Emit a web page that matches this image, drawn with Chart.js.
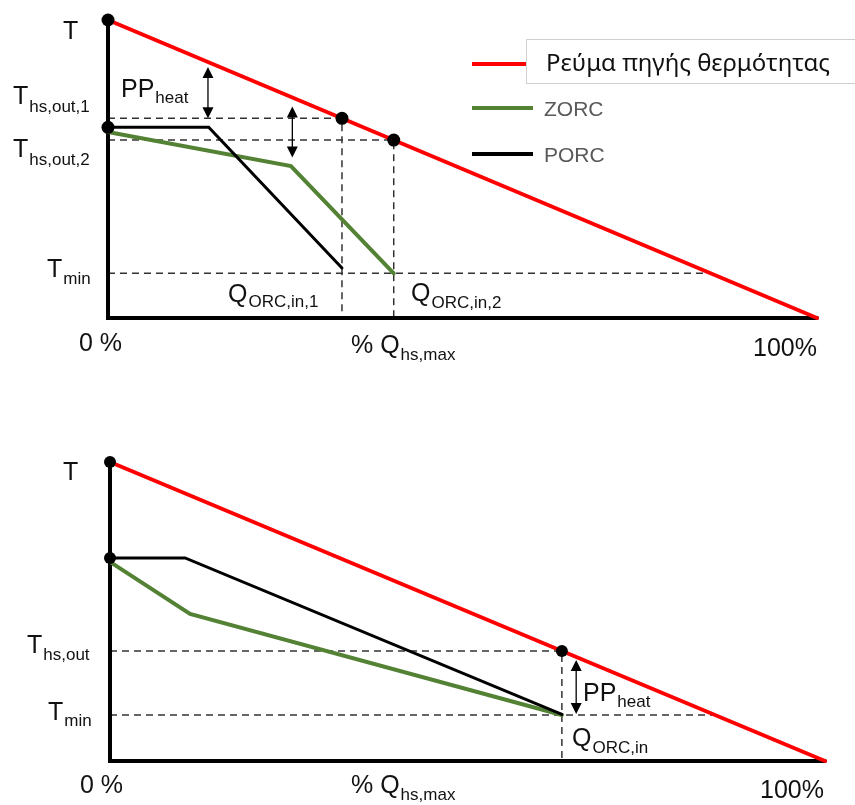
<!DOCTYPE html>
<html>
<head>
<meta charset="utf-8">
<script src="https://cdn.jsdelivr.net/npm/chart.js@4.4.0/dist/chart.umd.min.js"></script>
<style>
  html, body { margin: 0; padding: 0; background: #fff; }
  #wrap { position: relative; width: 855px; height: 805px; }
  canvas { position: absolute; left: 0; }
  #topChart { top: 0; }
  #bottomChart { top: 400px; }
</style>
</head>
<body>
<div id="wrap">
  <canvas id="topChart" width="855" height="400"></canvas>
  <canvas id="bottomChart" width="855" height="405"></canvas>
</div>
<script>
// x = % of Q_hs,max, y = temperature (relative units)

// upper diagram: two operating points
const topSourceX = [0, 100];
const topSourceT = [100, 0];
const topZorcX = [0, 25.8, 40.3];
const topZorcT = [62.4, 51, 15];
const topPorcX = [0, 14.2, 33];
const topPorcT = [64, 64, 16.8];
const topQin = [33, 40.3];      // Q_ORC,in,1 / Q_ORC,in,2
const topTout = [67, 59.7];     // T_hs,out,1 / T_hs,out,2
const topTmin = 15;
const topPPx = [14.1, 26];
const topPPfrom = [84.2, 71];
const topPPto = [67, 53.9];

// lower diagram: single operating point
const botSourceX = [0, 100];
const botSourceT = [100, 0];
const botZorcX = [0, 11.2, 63.2];
const botZorcT = [66.6, 49.2, 15.4];
const botPorcX = [0, 10.5, 63.2];
const botPorcT = [67.9, 67.9, 15.6];
const botQin = 63.2;
const botTout = 36.8;
const botTmin = 15.4;
const botPPx = 65.2;
const botPPfrom = 33.8;
const botPPto = 15.7;

const RED = "#ff0000";
const GREEN = "#548235";
const DASH = "#333333";
const FONT = '"Liberation Sans", Arial, sans-serif';

const pts = (xs, ys) => xs.map((x, i) => ({ x: x, y: ys[i] }));

// x where the heat source line reaches temperature t
function sourceXAt(xs, ys, t) {
  return xs[0] + (ys[0] - t) * (xs[1] - xs[0]) / (ys[0] - ys[1]);
}

function lineSet(data, color, width, order, dash) {
  return {
    data: data, showLine: true, borderColor: color, borderWidth: width,
    borderDash: dash || [], pointRadius: 0, order: order, clip: false,
    borderJoinStyle: "miter", borderCapStyle: dash ? "butt" : "round"
  };
}

function dotSet(data, r) {
  return {
    data: data, showLine: false, pointRadius: r, pointBackgroundColor: "#000",
    pointBorderWidth: 0, order: 0, clip: false
  };
}

function textSub(ctx, main, sub, x, y, drop) {
  ctx.fillStyle = "#111";
  ctx.textBaseline = "alphabetic";
  ctx.textAlign = "left";
  ctx.font = "25px " + FONT;
  ctx.fillText(main, x, y);
  if (sub) {
    const w = ctx.measureText(main).width;
    ctx.font = "17px " + FONT;
    ctx.fillText(sub, x + w + 1, y + drop);
  }
}

function arrow(ctx, x, y1, y2) {
  const hl = 11, hw = 5.5;
  ctx.save();
  ctx.strokeStyle = "#000";
  ctx.fillStyle = "#000";
  ctx.lineWidth = 1.3;
  ctx.beginPath();
  ctx.moveTo(x, y1 + hl - 1);
  ctx.lineTo(x, y2 - hl + 1);
  ctx.stroke();
  ctx.beginPath();
  ctx.moveTo(x, y1); ctx.lineTo(x - hw, y1 + hl); ctx.lineTo(x + hw, y1 + hl);
  ctx.closePath(); ctx.fill();
  ctx.beginPath();
  ctx.moveTo(x, y2); ctx.lineTo(x - hw, y2 - hl); ctx.lineTo(x + hw, y2 - hl);
  ctx.closePath(); ctx.fill();
  ctx.restore();
}

// arrows and text labels, given per chart in options.plugins.notes
const notesPlugin = {
  id: "notes",
  afterDraw(chart, args, opts) {
    const ctx = chart.ctx;
    const xs = chart.scales.x, ys = chart.scales.y;
    (opts.arrows || []).forEach(a => {
      arrow(ctx, xs.getPixelForValue(a.x), ys.getPixelForValue(a.from), ys.getPixelForValue(a.to));
    });
    (opts.labels || []).forEach(l => textSub(ctx, l.main, l.sub, l.x, l.y, l.drop || 0));
    if (opts.legend) {
      ctx.save();
      ctx.lineWidth = 4;
      ctx.lineCap = "butt";
      ctx.strokeStyle = RED;
      ctx.beginPath(); ctx.moveTo(472, 64); ctx.lineTo(528, 64); ctx.stroke();
      ctx.strokeStyle = GREEN;
      ctx.beginPath(); ctx.moveTo(472, 108); ctx.lineTo(533, 108); ctx.stroke();
      ctx.strokeStyle = "#000";
      ctx.beginPath(); ctx.moveTo(472, 154); ctx.lineTo(533, 154); ctx.stroke();
      ctx.fillStyle = "#fff";
      ctx.fillRect(526.5, 39.5, 340, 44);
      ctx.strokeStyle = "#d0d0d0";
      ctx.lineWidth = 1;
      ctx.strokeRect(526.5, 39.5, 340, 44);
      ctx.fillStyle = "#111";
      ctx.font = '24px "Noto Sans", "Open Sans", sans-serif';
      ctx.fillText("Ρεύμα πηγής θερμότητας", 546, 71);
      ctx.fillStyle = "#595959";
      ctx.font = "21px " + FONT;
      ctx.fillText("ZORC", 544, 116);
      ctx.fillText("PORC", 544, 162);
      ctx.restore();
    }
  }
};

function makeChart(id, pad, datasets, notes) {
  return new Chart(document.getElementById(id), {
    type: "scatter",
    data: { datasets: datasets },
    options: {
      responsive: false,
      animation: false,
      events: [],
      layout: { padding: pad },
      plugins: { legend: { display: false }, tooltip: { enabled: false }, notes: notes },
      scales: {
        x: { type: "linear", min: 0, max: 100, display: false },
        y: { type: "linear", min: 0, max: 100, display: false }
      }
    },
    plugins: [notesPlugin]
  });
}

// upper diagram
const topDatasets = [
  dotSet([{ x: 0, y: topSourceT[0] }, { x: 0, y: topPorcT[0] },
          { x: topQin[0], y: topTout[0] }, { x: topQin[1], y: topTout[1] }], 6.5),
  lineSet(pts(topPorcX, topPorcT), "#000", 3, 1),
  lineSet(pts(topZorcX, topZorcT), GREEN, 4, 2),
  lineSet(pts(topSourceX, topSourceT), RED, 4, 3),
  lineSet([{ x: 0, y: 100 }, { x: 0, y: 0 }, { x: 100, y: 0 }], "#000", 4, 4),
  lineSet([{ x: 0, y: topTout[0] }, { x: topQin[0], y: topTout[0] }, { x: topQin[0], y: 0 }], DASH, 1.5, 5, [7, 5]),
  lineSet([{ x: 0, y: topTout[1] }, { x: topQin[1], y: topTout[1] }, { x: topQin[1], y: 0 }], DASH, 1.5, 5, [7, 5]),
  lineSet([{ x: 0, y: topTmin }, { x: sourceXAt(topSourceX, topSourceT, topTmin), y: topTmin }], DASH, 1.5, 5, [7, 5])
];

makeChart("topChart", { left: 108, right: 38, top: 20, bottom: 82 }, topDatasets, {
  legend: true,
  arrows: topPPx.map((x, i) => ({ x: x, from: topPPfrom[i], to: topPPto[i] })),
  labels: [
    { main: "T", x: 63, y: 39 },
    { main: "T", sub: "hs,out,1", x: 13, y: 104, drop: 8 },
    { main: "T", sub: "hs,out,2", x: 13, y: 157, drop: 8 },
    { main: "T", sub: "min", x: 47, y: 277, drop: 7 },
    { main: "PP", sub: "heat", x: 121, y: 97, drop: 6 },
    { main: "Q", sub: "ORC,in,1", x: 228, y: 302, drop: 5 },
    { main: "Q", sub: "ORC,in,2", x: 411, y: 301, drop: 7 },
    { main: "0 %", x: 79, y: 351 },
    { main: "% Q", sub: "hs,max", x: 351, y: 353, drop: 7 },
    { main: "100%", x: 753, y: 356 }
  ]
});

// lower diagram
const botDatasets = [
  dotSet([{ x: 0, y: botSourceT[0] }, { x: 0, y: botPorcT[0] }, { x: botQin, y: botTout }], 6),
  lineSet(pts(botPorcX, botPorcT), "#000", 3, 1),
  lineSet(pts(botZorcX, botZorcT), GREEN, 4, 2),
  lineSet(pts(botSourceX, botSourceT), RED, 4, 3),
  lineSet([{ x: 0, y: 100 }, { x: 0, y: 0 }, { x: 100, y: 0 }], "#000", 4, 4),
  lineSet([{ x: 0, y: botTout }, { x: botQin, y: botTout }, { x: botQin, y: 0 }], DASH, 1.5, 5, [7, 5]),
  lineSet([{ x: 0, y: botTmin }, { x: sourceXAt(botSourceX, botSourceT, botTmin), y: botTmin }], DASH, 1.5, 5, [7, 5])
];

makeChart("bottomChart", { left: 110, right: 30, top: 62, bottom: 44 }, botDatasets, {
  arrows: [{ x: botPPx, from: botPPfrom, to: botPPto }],
  labels: [
    { main: "T", x: 63, y: 80 },
    { main: "T", sub: "hs,out", x: 27, y: 253, drop: 7 },
    { main: "T", sub: "min", x: 48, y: 320, drop: 6 },
    { main: "PP", sub: "heat", x: 583, y: 301, drop: 6 },
    { main: "Q", sub: "ORC,in", x: 572, y: 346, drop: 7 },
    { main: "0 %", x: 80, y: 393 },
    { main: "% Q", sub: "hs,max", x: 351, y: 393, drop: 7 },
    { main: "100%", x: 760, y: 398 }
  ]
});
</script>
</body>
</html>
